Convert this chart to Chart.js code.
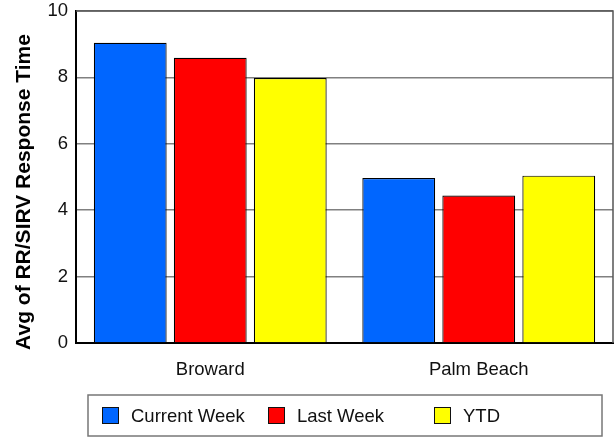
<!DOCTYPE html>
<html>
<head>
<meta charset="utf-8">
<script src="https://cdn.jsdelivr.net/npm/chart.js@4"></script>
<style>
  html, body { margin: 0; padding: 0; background: #fff; }
  #wrap { width: 616px; height: 438px; }
</style>
</head>
<body>
<div id="wrap"><canvas id="chart" width="616" height="438"></canvas></div>
<script>
const categories = ['Broward', 'Palm Beach'];
const seriesNames = ['Current Week', 'Last Week', 'YTD'];
const currentWeek = [9.04, 4.97];
const lastWeek = [8.59, 4.44];
const ytd = [7.98, 5.04];
const yTicks = [0, 2, 4, 6, 8, 10];
const yTitle = 'Avg of RR/SIRV Response Time';

const colors = ['#0066FF', '#FF0000', '#FFFF00'];
const FONT = "'Liberation Sans', Arial, sans-serif";

// frame: gray top/right border of the plot area
const frame = {
    id: 'frame',
    beforeDatasetsDraw(chart) {
        const { ctx, chartArea: a } = chart;
        ctx.save();
        ctx.strokeStyle = '#555';
        ctx.lineWidth = 1.5;
        ctx.beginPath();
        ctx.moveTo(a.left, a.top);
        ctx.lineTo(a.right, a.top);
        ctx.lineTo(a.right, a.bottom);
        ctx.stroke();
        ctx.restore();
    }
};

// y title, centered over plot + category labels like the original
const sideTitle = {
    id: 'sideTitle',
    afterDraw(chart) {
        const ctx = chart.ctx;
        ctx.save();
        ctx.translate(30, 192);
        ctx.rotate(-Math.PI / 2);
        ctx.font = 'bold 21px ' + FONT;
        ctx.fillStyle = '#000';
        ctx.textAlign = 'center';
        ctx.textBaseline = 'alphabetic';
        ctx.fillText(yTitle, 0, 0);
        ctx.restore();
    }
};

// boxed legend with fixed columns
const boxLegend = {
    id: 'boxLegend',
    afterDraw(chart) {
        const ctx = chart.ctx;
        const box = { x: 88, y: 395, w: 514, h: 41 };
        ctx.save();
        ctx.strokeStyle = '#777';
        ctx.lineWidth = 1.5;
        ctx.strokeRect(box.x, box.y, box.w, box.h);
        ctx.font = '18.5px ' + FONT;
        ctx.textBaseline = 'alphabetic';
        chart.data.datasets.forEach((ds, i) => {
            const sx = box.x + 14 + i * 166;
            const sy = 407;
            ctx.fillStyle = ds.backgroundColor;
            ctx.fillRect(sx, sy, 17, 17);
            ctx.strokeStyle = '#111';
            ctx.lineWidth = 1;
            ctx.strokeRect(sx + 0.5, sy + 0.5, 16, 16);
            ctx.fillStyle = '#111';
            ctx.fillText(ds.label, sx + 29, 422);
        });
        ctx.restore();
    }
};

const ctx = document.getElementById('chart').getContext('2d');
new Chart(ctx, {
    type: 'bar',
    data: {
        labels: categories,
        datasets: [currentWeek, lastWeek, ytd].map((vals, i) => ({
            label: seriesNames[i],
            data: vals,
            backgroundColor: colors[i],
            borderColor: '#000',
            borderWidth: 1.2,
            categoryPercentage: 0.894,
            barPercentage: 0.91
        }))
    },
    options: {
        responsive: false,
        animation: false,
        layout: { padding: { left: 0, right: 3, top: 11, bottom: 0 } },
        plugins: {
            legend: { display: false },
            tooltip: { enabled: false }
        },
        scales: {
            x: {
                grid: { display: false },
                border: { color: '#000', width: 2 },
                ticks: { color: '#111', font: { family: FONT, size: 18.5 }, padding: 8 },
                afterFit(scale) { scale.height = 95; scale.paddingLeft = 0; scale.paddingRight = 0; }
            },
            y: {
                min: 0,
                max: 10,
                afterBuildTicks(scale) { scale.ticks = yTicks.map(v => ({ value: v })); },
                grid: { color: '#808080', lineWidth: 1.5, drawTicks: false },
                border: { color: '#000', width: 2 },
                ticks: { color: '#111', font: { family: FONT, size: 18.5 }, padding: 8 },
                afterFit(scale) { scale.width = 76; scale.paddingTop = 0; scale.paddingBottom = 0; }
            }
        }
    },
    plugins: [frame, sideTitle, boxLegend]
});
</script>
</body>
</html>
